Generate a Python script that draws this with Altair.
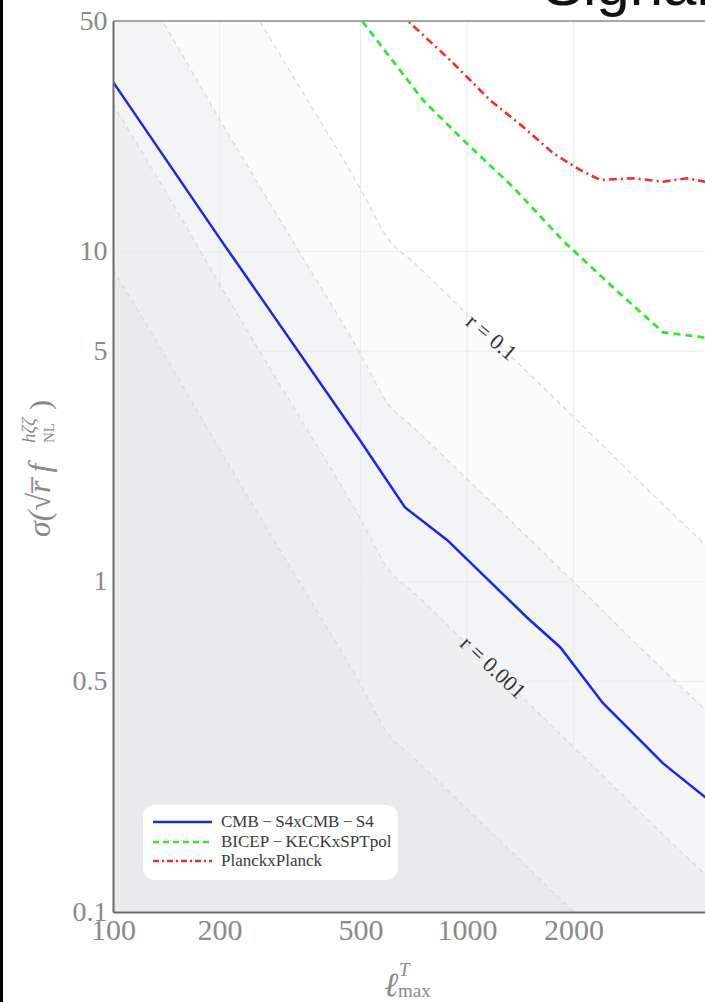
import altair as alt
import pandas as pd

# ---------------- data ----------------
# CMB-S4 x CMB-S4 forecast (solid blue)
s4_ell = [100, 200, 500, 668, 878, 1477, 1833, 2421, 2942, 3578, 4700, 5000]
s4_sig = [32.7, 11.0, 2.67, 1.68, 1.34, 0.78, 0.634, 0.429, 0.348, 0.282, 0.223, 0.212]
# BICEP-KECK x SPTpol (dashed green)
bk_ell = [483, 505, 751, 975, 1349, 1866, 2584, 3578, 4700, 5000]
bk_sig = [53.3, 50, 28.8, 21.8, 15.7, 10.8, 7.8, 5.7, 5.5, 5.45]
# Planck x Planck (dash-dot red)
pl_ell = [647, 681, 895, 1161, 1439, 1749, 2086, 2375, 2942, 3578, 4178, 4700, 5000]
pl_sig = [52.6, 50, 38.1, 28.8, 23.9, 19.9, 17.7, 16.5, 16.7, 16.3, 16.7, 16.3, 16.4]

# constant-r contour lines (background bands)
contour_ell = [100, 150, 200, 300, 500, 600, 700, 1000, 1500, 2000, 3000, 5000]
r_1e4 = [8.85, 4.29, 2.52, 1.22, 0.49, 0.345, 0.296, 0.205, 0.135, 0.100, 0.065, 0.0386]
r_1e3 = [28.0, 13.56, 7.98, 3.86, 1.55, 1.09, 0.937, 0.647, 0.426, 0.316, 0.206, 0.122]
r_1e2 = [88.5, 42.9, 25.2, 12.2, 4.90, 3.45, 2.96, 2.05, 1.35, 1.00, 0.651, 0.386]
r_1e1 = [280, 135.6, 79.8, 38.6, 15.5, 10.9, 9.37, 6.47, 4.26, 3.16, 2.06, 1.22]
floor = [0.001] * len(contour_ell)

contour_text = ["r = 0.1", "r = 0.001"]
contour_text_ell = [1170, 1183]
contour_text_sig = [5.5, 0.55]

grid_x = [200, 500, 1000, 2000]
grid_y = [0.5, 1, 5, 10]
x_ticks = [100, 200, 500, 1000, 2000]
y_ticks = [0.1, 0.5, 1, 5, 10, 50]

legend_names = ["CMB\u2009\u2212\u2009S4xCMB\u2009\u2212\u2009S4",
                "BICEP\u2009\u2212\u2009KECKxSPTpol", "PlanckxPlanck"]

# ---------------- tables ----------------
levels = [floor, r_1e4, r_1e3, r_1e2, r_1e1]
band_names = ["b0", "b1", "b2", "b3"]
band_colors = ["#e7e9ea", "#edeff0", "#f2f4f5", "#fafbfb"]
band_rows = []
for i, name in enumerate(band_names):
    for e, lo, hi in zip(contour_ell, levels[i], levels[i + 1]):
        band_rows.append({"ell": e, "sig": lo, "hi": hi, "band": name})
bands_df = pd.DataFrame(band_rows)

line_rows = []
for name, vals in [("1e-4", r_1e4), ("1e-3", r_1e3), ("1e-2", r_1e2), ("1e-1", r_1e1)]:
    for e, v in zip(contour_ell, vals):
        line_rows.append({"ell": e, "sig": v, "r": name})
clines_df = pd.DataFrame(line_rows)

s4_df = pd.DataFrame({"ell": s4_ell, "sig": s4_sig})
bk_df = pd.DataFrame({"ell": bk_ell, "sig": bk_sig})
pl_df = pd.DataFrame({"ell": pl_ell, "sig": pl_sig})

W, H = 592, 891
SERIF = "Liberation Serif"
AX_GRAY = "#8a8a8a"
xs = alt.Scale(type="log", domain=[100, 4700], nice=False)
ys = alt.Scale(type="log", domain=[0.1, 50], nice=False)
x_axis = alt.Axis(
    values=x_ticks, format="~g", labelFlush=False, labelOverlap=False,
    ticks=False, grid=False, title="", labelFont=SERIF, labelFontSize=30,
    labelColor=AX_GRAY, labelPadding=3, domainColor="#6a6a6a", domainWidth=2,
    zindex=1)
y_axis = alt.Axis(
    values=y_ticks, format="~g", labelOverlap=False, ticks=False, grid=False,
    title="", labelFont=SERIF, labelFontSize=28, labelColor=AX_GRAY,
    labelPadding=6, domainColor="#6a6a6a", domainWidth=2, zindex=1)

X = alt.X("ell:Q", scale=xs, axis=x_axis)
Y = alt.Y("sig:Q", scale=ys, axis=y_axis)

one = pd.DataFrame({"k": [0]})

bands = alt.Chart(bands_df).mark_area(clip=True, interpolate="monotone").encode(
    x=X, y=Y, y2="hi:Q",
    color=alt.Color("band:N", scale=alt.Scale(domain=band_names, range=band_colors), legend=None),
)

gx = alt.Chart(pd.DataFrame({"ell": grid_x})).mark_rule(color="#e9ebec", strokeWidth=1).encode(x=X)
gy = alt.Chart(pd.DataFrame({"sig": grid_y})).mark_rule(color="#e9ebec", strokeWidth=1).encode(y=Y)

clines = alt.Chart(clines_df).mark_line(
    clip=True, color="#d6d9db", strokeWidth=1.2, strokeDash=[5, 4], interpolate="monotone"
).encode(x=X, y=Y, detail="r:N")

lab1 = alt.Chart(pd.DataFrame({"ell": [contour_text_ell[0]], "sig": [contour_text_sig[0]], "t": [contour_text[0]]})).mark_text(
    font=SERIF, fontSize=22, color="#333333", angle=40, align="center", baseline="middle"
).encode(x=X, y=Y, text="t:N")
lab2 = alt.Chart(pd.DataFrame({"ell": [contour_text_ell[1]], "sig": [contour_text_sig[1]], "t": [contour_text[1]]})).mark_text(
    font=SERIF, fontSize=22, color="#333333", angle=43, align="center", baseline="middle"
).encode(x=X, y=Y, text="t:N")

s4 = alt.Chart(s4_df).mark_line(clip=True, color="#2424e6", strokeWidth=2.5).encode(x=X, y=Y)
bk = alt.Chart(bk_df).mark_line(clip=True, color="#33e633", strokeWidth=2.8, strokeDash=[7, 5]).encode(x=X, y=Y)
pl = alt.Chart(pl_df).mark_line(clip=True, color="#ee3030", strokeWidth=2.6, strokeDash=[8, 4, 2, 4]).encode(x=X, y=Y)

top_frame = alt.Chart(one).mark_rule(color="#8a8a8a", strokeWidth=1.5).encode(
    x=alt.value(0), x2=alt.value(W), y=alt.value(0))

# legend box
leg_box = alt.Chart(one).mark_rect(fill="white", cornerRadius=12).encode(
    x=alt.value(30), x2=alt.value(285), y=alt.value(784), y2=alt.value(859))
leg_colors = ["#2424e6", "#33e633", "#ee3030"]
leg_dash = [[1, 0], [6, 4], [6, 3, 2, 3]]
leg_y = [801, 821, 840]
leg_layers = []
for name, col, dash, yy in zip(legend_names, leg_colors, leg_dash, leg_y):
    leg_layers.append(alt.Chart(one).mark_rule(color=col, strokeWidth=2.5, strokeDash=dash).encode(
        x=alt.value(40), x2=alt.value(99), y=alt.value(yy)))
    leg_layers.append(alt.Chart(pd.DataFrame({"t": [name]})).mark_text(
        font=SERIF, fontSize=17, color="#3a3a3a", align="left", baseline="middle").encode(
        x=alt.value(108), y=alt.value(yy), text="t:N"))


def txt(s, x, y, size, angle=0, style="normal", font=SERIF, color=AX_GRAY, align="left", baseline="alphabetic"):
    kw = dict(font=font, fontSize=size, color=color, align=align, baseline=baseline, fontStyle=style)
    if angle:
        kw["angle"] = angle
    return alt.Chart(pd.DataFrame({"t": [s]})).mark_text(**kw).encode(
        x=alt.value(x), y=alt.value(y), text="t:N")


# y-axis title  sigma(sqrt(r) f_NL^{h zeta zeta})
ytitle = [
    txt("\u03c3(\u221ar\u0305 f", -63, 516, 32, angle=270, style="italic"),
    txt("h\u03b6\u03b6", -78, 422, 19, angle=270, style="italic"),
    txt("NL", -59, 422, 15, angle=270),
    txt(")", -63, 389, 30, angle=270),
]
# x-axis title  ell^T_max
xtitle = [
    txt("\u2113", 271, 975, 34, style="italic"),
    txt("T", 286, 955, 19, style="italic"),
    txt("max", 285, 976, 19),
]
# page title (cut by the top edge, as in the reference)
title = txt("Signal", 430, -16, 60, font="Liberation Sans", color="#111111")
# dark strip at the left edge of the frame
strip = alt.Chart(one).mark_rect(color="black").encode(
    x=alt.value(-113), x2=alt.value(-110), y=alt.value(-21), y2=alt.value(H + 90))

chart = alt.layer(
    bands, gx, gy, clines, lab1, lab2, s4, bk, pl, top_frame, leg_box, *leg_layers,
    *ytitle, *xtitle, title, strip
).properties(
    width=W, height=H,
    autosize=alt.AutoSizeParams(type="none"),
    padding={"left": 113, "top": 21, "right": 0, "bottom": 90},
).configure_view(strokeWidth=0)

chart.save("out.html", embed_options={"renderer": "svg", "actions": False})
